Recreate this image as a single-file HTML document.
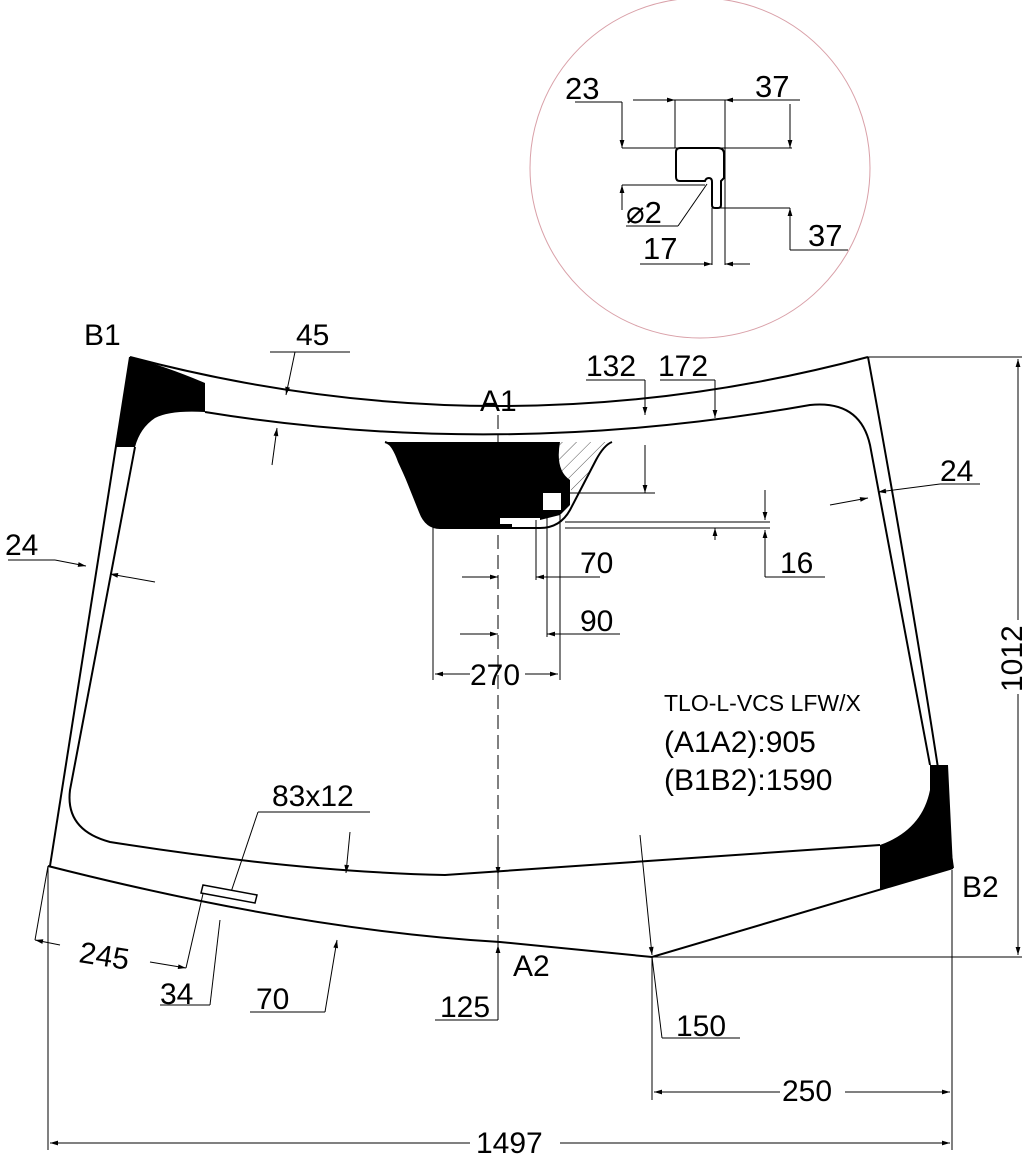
<!DOCTYPE html>
<html><head><meta charset="utf-8"><style>
html,body{margin:0;padding:0;background:#fff;}
svg{display:block;font-family:"Liberation Sans",sans-serif;}
</style></head><body>
<svg width="1024" height="1160" viewBox="0 0 1024 1160" xmlns="http://www.w3.org/2000/svg">
<defs>
<marker id="a" viewBox="0 0 10 10" refX="10" refY="5" markerWidth="10" markerHeight="8" orient="auto-start-reverse"><path d="M0,2 L10,5 L0,8z" fill="#000"/></marker>
<pattern id="h" width="10" height="10" patternUnits="userSpaceOnUse" patternTransform="rotate(45)"><line x1="0" y1="0" x2="0" y2="10" stroke="#555" stroke-width="1"/></pattern>
</defs>
<circle cx="700" cy="168" r="170" fill="none" stroke="#d9a0a8" stroke-width="1"/>
<g stroke="#000" stroke-width="1" fill="none">
<path d="M680,148 L718,148 Q724,148 724,154 L724,178 L721,181 L721,205 Q721,208 718,208 L715,208 Q712,208 712,205 L712,182 Q712,178 709,178 Q706,178 705,181 L680,181 Q676,181 676,177 L676,152 Q676,148 680,148z" stroke-width="2"/>
<line x1="622" y1="148" x2="792" y2="148"/><line x1="622" y1="185" x2="705" y2="185"/>
<line x1="575" y1="102" x2="622" y2="102"/><line x1="622" y1="102" x2="622" y2="148" marker-end="url(#a)"/>
<line x1="622" y1="210" x2="622" y2="185" marker-end="url(#a)"/>
<line x1="633" y1="100" x2="675" y2="100" marker-end="url(#a)"/><line x1="675" y1="100" x2="725" y2="100"/>
<line x1="800" y1="100" x2="725" y2="100" marker-end="url(#a)"/>
<line x1="675" y1="100" x2="675" y2="148"/><line x1="725" y1="100" x2="725" y2="265"/>
<line x1="790" y1="104" x2="790" y2="148" marker-end="url(#a)"/>
<line x1="720" y1="208" x2="790" y2="208"/>
<line x1="790" y1="250" x2="790" y2="208" marker-end="url(#a)"/><line x1="790" y1="250" x2="848" y2="250"/>
<line x1="712" y1="208" x2="712" y2="265"/>
<line x1="640" y1="264" x2="712" y2="264" marker-end="url(#a)"/>
<line x1="750" y1="264" x2="725" y2="264" marker-end="url(#a)"/>
<line x1="626" y1="226" x2="678" y2="226"/><line x1="678" y1="226" x2="707" y2="184"/>
</g>
<g font-size="31" fill="#000">
<text x="565" y="99">23</text><text x="755" y="97">37</text>
<text x="626" y="223">⌀2</text><text x="643" y="259">17</text><text x="808" y="246">37</text>
</g>

<path d="M130,357 Q165,366 205,383 L205,412 Q170,410 155,418 Q140,428 135,447 L115,447 Z" fill="#000"/>
<path d="M930,765 L948,765 L953,868 L880,890 L880,845 Q922,830 930,790Z" fill="#000"/>
<path d="M385,442 L560,442 Q555,470 570,480 L570,505 L560,515 L540,520 L512,522 L512,528 L440,528 Q425,528 420,510 L398,462 Q392,445 385,442Z" fill="#000"/>
<path d="M560,442 L612,442 Q604,445 596,460 L572,500 L570,480 Q555,470 560,442Z" fill="url(#h)"/>
<rect x="543" y="493" width="18" height="17" fill="#fff"/>
<rect x="500" y="518" width="40" height="6" fill="#fff"/>
<g fill="none" stroke="#000" stroke-width="2">
<path d="M130,357 Q500,455 868,357"/>
<path d="M130,357 L50,866"/>
<path d="M868,357 Q920,640 953,868"/>
<path d="M48,866 Q300,930 500,942 L652,957 L953,868"/>
<path d="M205,412 Q500,460 810,405 Q860,400 870,445 L930,765"/>
<path d="M135,447 L70,790 Q65,830 110,842 Q300,872 445,875 L880,845"/>
<path d="M385,442 Q395,445 400,462 L420,512 Q426,528 440,528 L540,528 Q560,528 570,510 L596,460 Q604,445 612,442"/>
</g>
<line x1="498" y1="415" x2="498" y2="970" stroke="#000" stroke-width="1" stroke-dasharray="14,6"/>
<g stroke="#000" stroke-width="1" fill="none">
<line x1="868" y1="357" x2="1022" y2="357"/><line x1="652" y1="957" x2="1022" y2="957"/>
<line x1="1018" y1="620" x2="1018" y2="359" marker-end="url(#a)"/><line x1="1018" y1="694" x2="1018" y2="955" marker-end="url(#a)"/>
<line x1="48" y1="866" x2="48" y2="1150"/><line x1="952" y1="870" x2="952" y2="1150"/>
<line x1="470" y1="1143" x2="50" y2="1143" marker-end="url(#a)"/><line x1="560" y1="1143" x2="950" y2="1143" marker-end="url(#a)"/>
<line x1="652" y1="957" x2="652" y2="1100"/>
<line x1="780" y1="1092" x2="654" y2="1092" marker-end="url(#a)"/><line x1="845" y1="1092" x2="950" y2="1092" marker-end="url(#a)"/>
<line x1="652" y1="957" x2="662" y2="1038"/><line x1="662" y1="1038" x2="740" y2="1038"/>
<line x1="640" y1="835" x2="652" y2="955" marker-end="url(#a)"/>
<line x1="498" y1="1020" x2="498" y2="945" marker-end="url(#a)"/><line x1="435" y1="1020" x2="498" y2="1020"/>
<line x1="498" y1="845" x2="498" y2="875" marker-end="url(#a)"/>
<line x1="350" y1="832" x2="346" y2="873" marker-end="url(#a)"/>
<line x1="325" y1="1012" x2="337" y2="940" marker-end="url(#a)"/><line x1="250" y1="1012" x2="325" y2="1012"/>
<line x1="35" y1="940" x2="48" y2="866"/>
<line x1="60" y1="945" x2="35" y2="940" marker-end="url(#a)"/><line x1="150" y1="962" x2="186" y2="968" marker-end="url(#a)"/>
<line x1="186" y1="968" x2="205" y2="885"/>
<line x1="160" y1="1005" x2="210" y2="1005"/><line x1="210" y1="1005" x2="220" y2="920"/>
<line x1="230" y1="895" x2="258" y2="812"/><line x1="258" y1="812" x2="370" y2="812"/>
<line x1="270" y1="352" x2="350" y2="352"/><line x1="295" y1="352" x2="286" y2="395" marker-end="url(#a)"/>
<line x1="272" y1="465" x2="277" y2="428" marker-end="url(#a)"/>
<line x1="8" y1="560" x2="55" y2="560"/><line x1="55" y1="560" x2="86" y2="566" marker-end="url(#a)"/>
<line x1="155" y1="582" x2="110" y2="574" marker-end="url(#a)"/>
<line x1="980" y1="484" x2="940" y2="484"/><line x1="940" y1="484" x2="878" y2="492" marker-end="url(#a)"/>
<line x1="830" y1="505" x2="868" y2="498" marker-end="url(#a)"/>
<line x1="586" y1="380" x2="645" y2="380"/><line x1="645" y1="380" x2="645" y2="415" marker-end="url(#a)"/>
<line x1="645" y1="445" x2="645" y2="493" marker-end="url(#a)"/>
<line x1="565" y1="493" x2="655" y2="493"/>
<line x1="660" y1="380" x2="715" y2="380"/><line x1="715" y1="380" x2="715" y2="418" marker-end="url(#a)"/>
<line x1="715" y1="540" x2="715" y2="528" marker-end="url(#a)"/>
<line x1="565" y1="528" x2="770" y2="528"/><line x1="565" y1="522" x2="770" y2="522"/>
<line x1="765" y1="490" x2="765" y2="520" marker-end="url(#a)"/>
<line x1="765" y1="577" x2="765" y2="530" marker-end="url(#a)"/><line x1="765" y1="577" x2="825" y2="577"/>
<line x1="433" y1="525" x2="433" y2="680"/><line x1="560" y1="515" x2="560" y2="680"/>
<line x1="536" y1="520" x2="536" y2="580"/><line x1="547" y1="515" x2="547" y2="637"/>
<line x1="462" y1="577" x2="498" y2="577" marker-end="url(#a)"/><line x1="600" y1="577" x2="536" y2="577" marker-end="url(#a)"/>
<line x1="460" y1="634" x2="498" y2="634" marker-end="url(#a)"/><line x1="620" y1="634" x2="547" y2="634" marker-end="url(#a)"/>
<line x1="470" y1="674" x2="435" y2="674" marker-end="url(#a)"/><line x1="525" y1="674" x2="558" y2="674" marker-end="url(#a)"/>
</g>
<polygon points="203,885 257,895 255,903 201,893" fill="#fff" stroke="#000" stroke-width="1.5"/>
<g font-size="30" fill="#000">
<text x="84" y="345">B1</text><text x="296" y="345">45</text><text x="480" y="411">A1</text>
<text x="586" y="376">132</text><text x="658" y="376">172</text>
<text x="940" y="481">24</text><text x="5" y="555">24</text>
<text x="580" y="573">70</text><text x="780" y="573">16</text><text x="580" y="631">90</text><text x="470" y="685">270</text>
<text x="664" y="711" font-size="23">TLO-L-VCS LFW/X</text>
<text x="664" y="752">(A1A2):905</text><text x="664" y="790">(B1B2):1590</text>
<text x="272" y="806">83x12</text><text x="962" y="897">B2</text>
<text x="513" y="976">A2</text>
<text x="78" y="962" transform="rotate(9 78 962)">245</text>
<text x="160" y="1004">34</text><text x="256" y="1009">70</text><text x="440" y="1017">125</text>
<text x="676" y="1036">150</text><text x="782" y="1101">250</text><text x="476" y="1153">1497</text>
<text x="1000" y="692" transform="rotate(-90 1000 692) translate(0 22)">1012</text>
</g>
</svg>
</body></html>
